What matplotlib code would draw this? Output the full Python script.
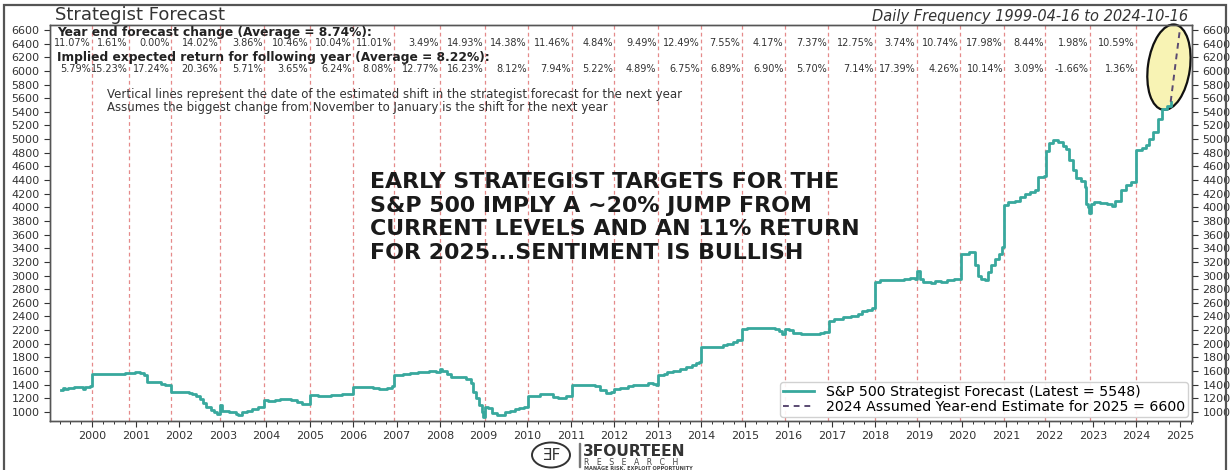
import matplotlib
matplotlib.use('Agg')
import matplotlib.pyplot as plt
from matplotlib.patches import Ellipse, Rectangle
from matplotlib.transforms import blended_transform_factory, IdentityTransform
from matplotlib.ticker import MultipleLocator

plt.rcParams['font.family'] = ['DejaVu Sans']

# strategist forecast (decimal year, index level), step series
years = [1999.29, 1999.33, 1999.38, 1999.45, 1999.58, 1999.72, 1999.80, 1999.84, 1999.94,
         2000.00, 2000.30, 2000.55, 2000.75, 2000.84, 2000.98, 2001.10, 2001.20, 2001.27,
         2001.45, 2001.58, 2001.68, 2001.82, 2002.10, 2002.22, 2002.30, 2002.38, 2002.48,
         2002.55, 2002.62, 2002.72, 2002.80, 2002.88, 2002.93, 2002.98, 2003.15, 2003.30,
         2003.36, 2003.45, 2003.55, 2003.68, 2003.80, 2003.90, 2003.96, 2004.05, 2004.20,
         2004.32, 2004.45, 2004.58, 2004.70, 2004.82, 2005.00, 2005.20, 2005.35, 2005.50,
         2005.75, 2006.00, 2006.30, 2006.45, 2006.60, 2006.78, 2006.88, 2006.93, 2007.15,
         2007.30, 2007.50, 2007.75, 2007.90, 2008.00, 2008.05, 2008.15, 2008.25, 2008.45,
         2008.60, 2008.70, 2008.76, 2008.82, 2008.88, 2008.95, 2008.98, 2009.02, 2009.10,
         2009.18, 2009.30, 2009.42, 2009.50, 2009.60, 2009.72, 2009.82, 2009.92, 2010.02,
         2010.15, 2010.30, 2010.50, 2010.60, 2010.70, 2010.88, 2011.02, 2011.15, 2011.55,
         2011.68, 2011.80, 2011.92, 2012.00, 2012.14, 2012.32, 2012.42, 2012.70, 2012.78,
         2012.88, 2012.95, 2013.00, 2013.14, 2013.22, 2013.36, 2013.50, 2013.64, 2013.78,
         2013.88, 2013.95, 2014.00, 2014.40, 2014.50, 2014.60, 2014.72, 2014.83, 2014.93,
         2015.05, 2015.70, 2015.78, 2015.85, 2015.92, 2016.02, 2016.12, 2016.30, 2016.65,
         2016.72, 2016.82, 2016.93, 2017.05, 2017.25, 2017.45, 2017.60, 2017.70, 2017.80,
         2017.92, 2018.00, 2018.10, 2018.65, 2018.80, 2018.92, 2018.97, 2019.02, 2019.10,
         2019.28, 2019.38, 2019.50, 2019.65, 2019.80, 2019.96, 2020.15, 2020.25, 2020.30,
         2020.35, 2020.43, 2020.52, 2020.60, 2020.67, 2020.75, 2020.85, 2020.92, 2020.97,
         2021.05, 2021.20, 2021.32, 2021.43, 2021.55, 2021.67, 2021.75, 2021.87, 2021.92,
         2021.99, 2022.09, 2022.19, 2022.31, 2022.38, 2022.46, 2022.54, 2022.62, 2022.73,
         2022.81, 2022.85, 2022.89, 2022.92, 2022.95, 2023.02, 2023.17, 2023.33, 2023.45,
         2023.52, 2023.64, 2023.76, 2023.87, 2024.00, 2024.12, 2024.22, 2024.30, 2024.38,
         2024.50, 2024.58, 2024.70, 2024.79]
forecast = [1320, 1345, 1330, 1350, 1360, 1370, 1340, 1370, 1375,
            1550, 1555, 1560, 1565, 1570, 1585, 1575, 1540, 1440,
            1435, 1415, 1395, 1290, 1290, 1275, 1260, 1235, 1190,
            1130, 1070, 1030, 995, 965, 1100, 1010, 995, 975,
            955, 995, 1020, 1040, 1075, 1080, 1175, 1160, 1170,
            1190, 1195, 1170, 1140, 1120, 1250, 1240, 1230, 1250,
            1260, 1370, 1370, 1350, 1340, 1355, 1380, 1540, 1550,
            1575, 1590, 1600, 1590, 1630, 1605, 1560, 1520, 1510,
            1480, 1420, 1300, 1200, 1100, 1000, 920, 1070, 1060,
            980, 955, 960, 1000, 1020, 1040, 1060, 1080, 1230,
            1240, 1270, 1260, 1220, 1200, 1230, 1390, 1400, 1380,
            1320, 1280, 1290, 1340, 1350, 1380, 1390, 1395, 1420,
            1410, 1400, 1540, 1550, 1580, 1600, 1630, 1660, 1690,
            1720, 1740, 1960, 1960, 1980, 2000, 2030, 2050, 2210,
            2230, 2220, 2180, 2140, 2220, 2200, 2160, 2150, 2150,
            2160, 2170, 2330, 2360, 2390, 2400, 2440, 2480, 2500,
            2530, 2900, 2940, 2950, 2960, 2950, 3060, 2950, 2900,
            2890, 2920, 2910, 2940, 2950, 3320, 3350, 3340, 3150,
            3000, 2950, 2940, 3050, 3150, 3250, 3320, 3420, 4030,
            4080, 4100, 4150, 4200, 4220, 4250, 4450, 4460, 4820,
            4950, 4990, 4960, 4900, 4850, 4700, 4550, 4430, 4380,
            4300, 4050, 4000, 3920, 4050, 4080, 4060, 4050, 4020,
            4100, 4250, 4330, 4370, 4840, 4870, 4920, 5000, 5100,
            5300, 5440, 5480, 5548]

# assumed year-end estimate for 2025
est_years = [2024.79, 2025.0]
est_values = [5548, 6600]

# estimated shift dates (vertical lines) and the two rows of figures
shift_years = [2000.00, 2000.84, 2001.82, 2002.93, 2003.96, 2005.00, 2006.00, 2006.93,
               2008.00, 2009.02, 2010.02, 2011.02, 2012.00, 2013.00, 2014.00, 2014.93,
               2015.92, 2016.92, 2018.00, 2018.95, 2019.95, 2020.97, 2021.91, 2022.94,
               2024.00]
yearend_change = ['11.07%', '1.61%', '0.00%', '14.02%', '3.86%', '10.46%', '10.04%', '11.01%',
                  '3.49%', '14.93%', '14.38%', '11.46%', '4.84%', '9.49%', '12.49%', '7.55%',
                  '4.17%', '7.37%', '12.75%', '3.74%', '10.74%', '17.98%', '8.44%', '1.98%',
                  '10.59%']
implied_return = ['5.79%', '15.23%', '17.24%', '20.36%', '5.71%', '3.65%', '6.24%', '8.08%',
                  '12.77%', '16.23%', '8.12%', '7.94%', '5.22%', '4.89%', '6.75%', '6.89%',
                  '6.90%', '5.70%', '7.14%', '17.39%', '4.26%', '10.14%', '3.09%', '-1.66%',
                  '1.36%']
year_ticks = list(range(2000, 2026))
level_ticks = list(range(1000, 6601, 200))

W, H = 1230, 470
fig = plt.figure(figsize=(W / 100, H / 100), dpi=100)
ax = fig.add_axes([50 / W, 49 / H, 1142 / W, 396 / H])

teal = '#38a89d'
ax.plot(years, forecast, drawstyle='steps-post', color=teal, lw=2.0, zorder=3,
        label='S&P 500 Strategist Forecast (Latest = 5548)')
ax.plot(est_years, est_values, color='#5a4a72', lw=1.4, ls=(0, (3, 2.5)), zorder=4,
        label='2024 Assumed Year-end Estimate for 2025 = 6600')

for sy in shift_years:
    ax.axvline(sy, color='#e58a8a', lw=0.9, ls=(0, (3, 2.5)), zorder=1)

ax.set_xlim(1999.03, 2025.28)
ax.set_ylim(868, 6673)
ax.set_xticks(year_ticks)
ax.set_xticklabels([str(y) for y in year_ticks])
ax.xaxis.set_minor_locator(MultipleLocator(0.25))
ax.set_yticks(level_ticks)

ax2 = ax.twinx()
ax2.set_ylim(ax.get_ylim())
ax2.set_yticks(level_ticks)

for a in (ax, ax2):
    a.tick_params(axis='both', labelsize=8, colors='#333333', length=4, width=0.8)
    a.tick_params(axis='x', which='minor', length=2.5, width=0.7, colors='#333333')
    for s in a.spines.values():
        s.set_color('#555555')
        s.set_linewidth(1.0)

# percentage rows, right-aligned on each shift line
trans = blended_transform_factory(ax.transData, ax.transAxes)
for sy, a, b in zip(shift_years, yearend_change, implied_return):
    ax.text(sy - 0.03, 0.955, a, transform=trans, ha='right', va='center',
            fontsize=7, color='#333333')
    ax.text(sy - 0.03, 0.888, b, transform=trans, ha='right', va='center',
            fontsize=7, color='#333333')

ax.text(0.006, 0.981, 'Year end forecast change (Average = 8.74%):', transform=ax.transAxes,
        ha='left', va='center', fontsize=8.8, fontweight='bold', color='#222222')
ax.text(0.006, 0.918, 'Implied expected return for following year (Average = 8.22%):',
        transform=ax.transAxes, ha='left', va='center', fontsize=8.8, fontweight='bold',
        color='#222222')
ax.text(0.05, 0.808, 'Vertical lines represent the date of the estimated shift in the '
        'strategist forecast for the next year\nAssumes the biggest change from November '
        'to January is the shift for the next year', transform=ax.transAxes,
        ha='left', va='center', fontsize=8.5, color='#333333', linespacing=0.95)

ax.text(0.28, 0.628, 'EARLY STRATEGIST TARGETS FOR THE\nS&P 500 IMPLY A ~20% JUMP FROM\n'
        'CURRENT LEVELS AND AN 11% RETURN\nFOR 2025...SENTIMENT IS BULLISH',
        transform=ax.transAxes, ha='left', va='top', fontsize=15.9, fontweight='heavy',
        color='#1a1a1a', linespacing=1.22, zorder=5)

# highlight around the assumed estimate
fig.canvas.draw()
cx, cy = ax.transData.transform((2024.75, 6055))
hl = Ellipse((cx, cy), width=42, height=86, angle=-8, transform=IdentityTransform(),
             facecolor='#f8f3b4', edgecolor='#111111', lw=1.6, zorder=2, clip_on=False)
ax.add_patch(hl)

leg = ax.legend(loc='lower right', fontsize=10.2, frameon=True, borderaxespad=0.3,
                handlelength=2.2, borderpad=0.2, labelspacing=0.05)
leg.get_frame().set_edgecolor('#cccccc')
leg.get_frame().set_alpha(0.9)
leg.set_zorder(6)

fig.text(55 / W, 1 - 15 / H, 'Strategist Forecast', ha='left', va='center', fontsize=13,
         color='#333333')
fig.text(1188 / W, 1 - 16 / H, 'Daily Frequency 1999-04-16 to 2024-10-16', ha='right',
         va='center', fontsize=10.5, style='italic', color='#333333')

# outer frame
fig.add_artist(Rectangle((4 / W, -0.02), 1222 / W, 1.01, transform=fig.transFigure,
                         fill=False, edgecolor='#555555', lw=1.6))

# logo
fig.add_artist(Ellipse((551, H - 455), width=38, height=25, transform=IdentityTransform(),
                       fill=False, edgecolor='#333333', lw=1.4))
fig.text(551 / W, 15 / H, '\u018eF', ha='center', va='center', fontsize=11,
         color='#333333')
fig.add_artist(Rectangle((579 / W, 3 / H), 0.6 / W, 24 / H, transform=fig.transFigure,
                         color='#777777'))
fig.text(583 / W, 1 - 456.5 / H, '3FOURTEEN', ha='left', va='baseline', fontsize=11.2,
         fontweight='bold', color='#333333')
fig.text(584 / W, 1 - 465 / H, 'R   E   S   E   A   R   C   H', ha='left', va='baseline',
         fontsize=5.6, color='#444444')
fig.text(584 / W, 1 - 469.5 / H, 'MANAGE RISK. EXPLOIT OPPORTUNITY', ha='left',
         va='baseline', fontsize=3.6, fontweight='bold', color='#444444')

fig.savefig('out.png', dpi=100)
